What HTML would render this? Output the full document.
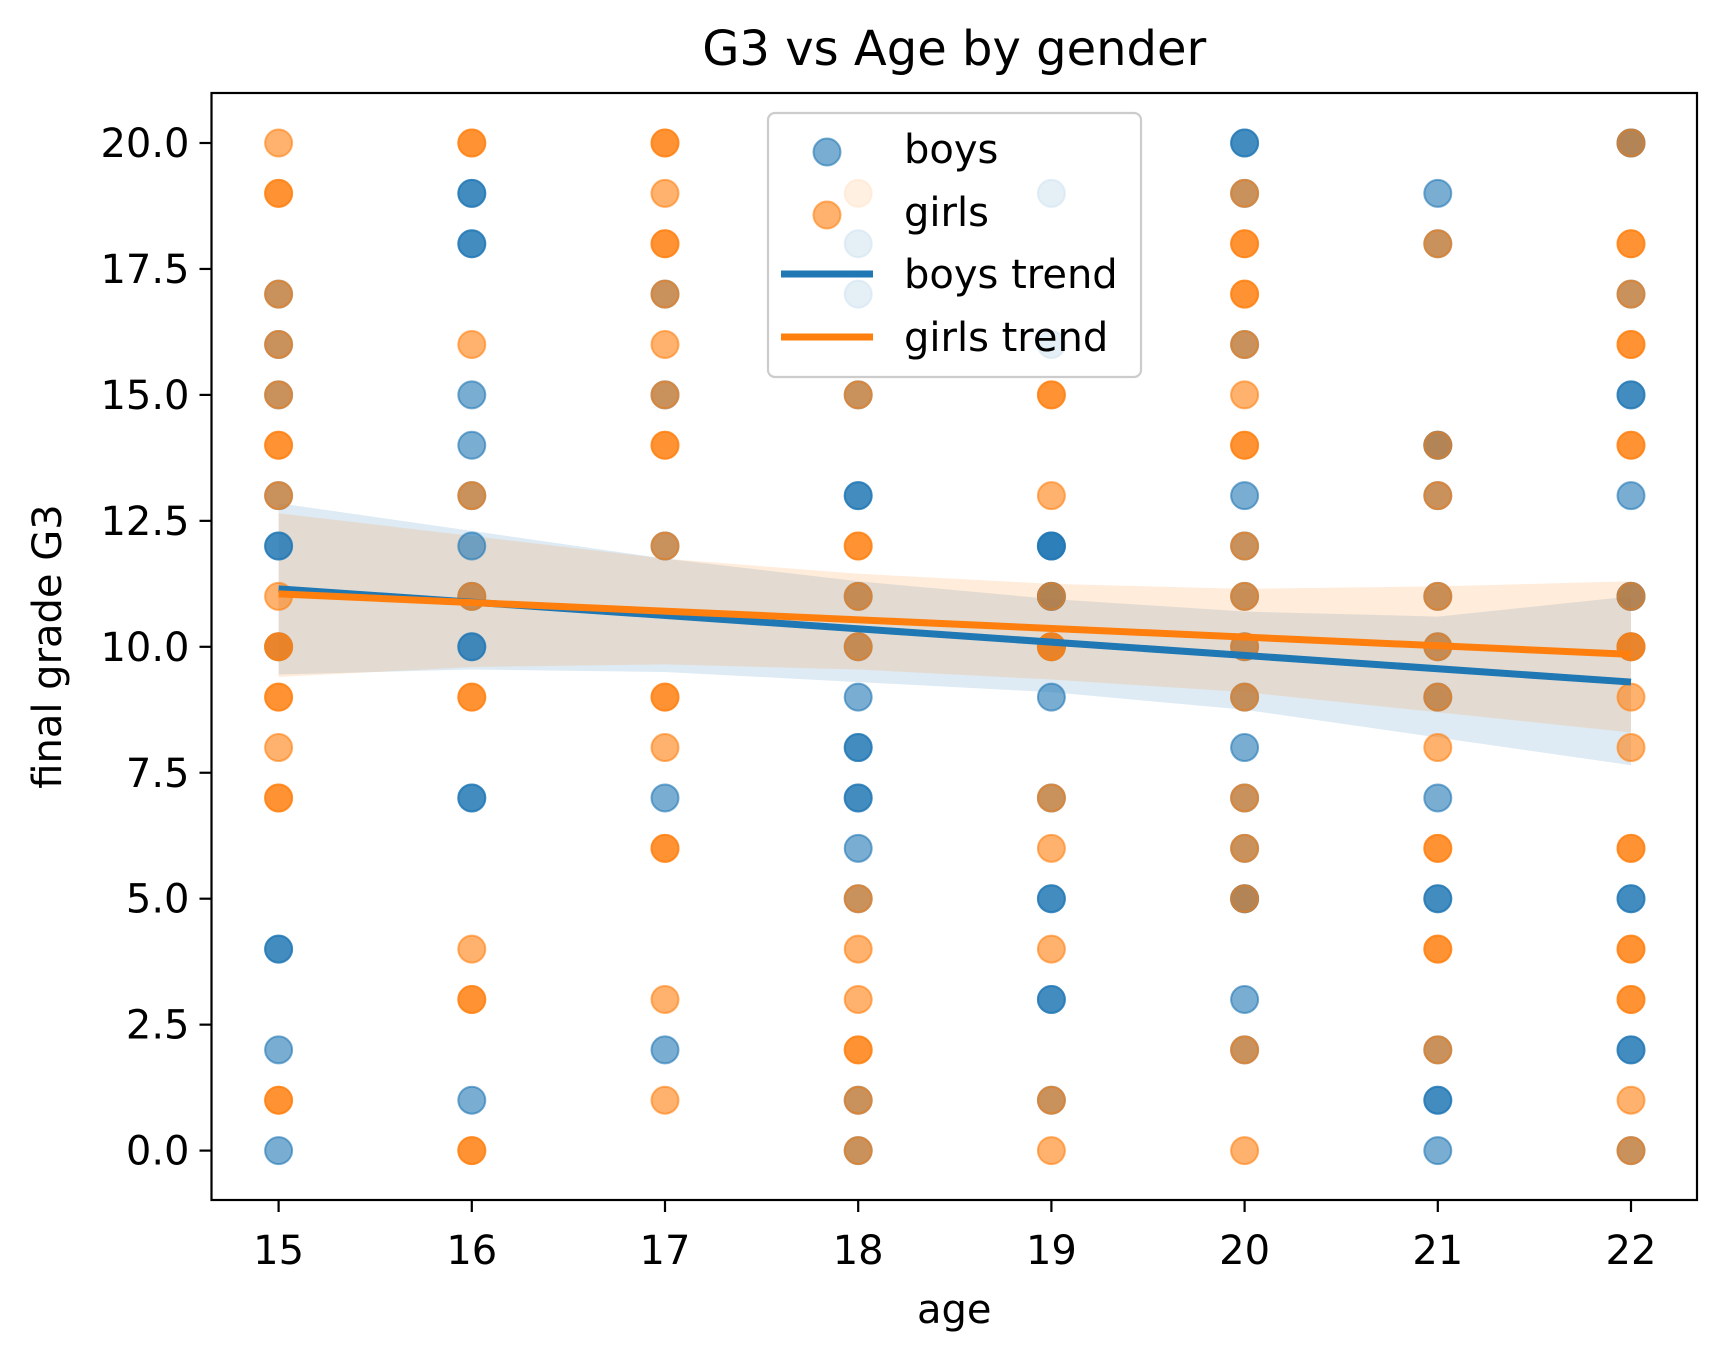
<!DOCTYPE html>
<html><head><meta charset="utf-8"><style>
html,body{margin:0;padding:0;background:#fff;}
svg{display:block;font-family:"DejaVu Sans","Liberation Sans",sans-serif;}
</style></head><body>
<svg id="chart" width="1728" height="1361" viewBox="0 0 1728 1361" xmlns="http://www.w3.org/2000/svg">
<rect width="1728" height="1361" fill="#fff"/>
<g id="bands"></g>
<g id="points"></g>
<g id="lines"></g>
<g id="axes"></g>
<g id="legend"></g>
</svg>
<script>
const ages=[15,16,17,18,19,20,21,22];
const boysAge=[15,15,15,15,15,15,15,15,15,15,15, 16,16,16,16,16,16,16,16,16,16,16,16,16,16, 17,17,17,17,17, 18,18,18,18,18,18,18,18,18,18,18,18,18,18,18,18, 19,19,19,19,19,19,19,19,19,19,19,19,19,19,19, 20,20,20,20,20,20,20,20,20,20,20,20,20,20,20,20, 21,21,21,21,21,21,21,21,21,21,21,21,21,21,21, 22,22,22,22,22,22,22,22,22,22,22,22,22,22];
const boysG3=[17,16,15,13,12,12,4,4,2,0,10, 19,19,18,18,15,14,13,12,11,10,10,7,7,1, 17,15,12,7,2, 18,17,15,13,13,11,10,9,8,8,7,7,6,5,1,0, 19,16,12,12,11,11,9,7,5,5,3,3,1,12,10, 20,20,19,16,13,12,11,9,8,7,6,5,3,2,5,10, 19,18,14,13,11,10,9,7,5,5,2,1,1,0,14, 20,17,15,15,13,11,10,5,5,2,2,0,20,11];
const girlsAge=[15,15,15,15,15,15,15,15,15,15,15,15,15,15,15,15,15,15,15, 16,16,16,16,16,16,16,16,16,16,16,16, 17,17,17,17,17,17,17,17,17,17,17,17,17,17,17,17,17,17, 18,18,18,18,18,18,18,18,18,18,18,18,18, 19,19,19,19,19,19,19,19,19,19,19, 20,20,20,20,20,20,20,20,20,20,20,20,20,20,20,20,20,20, 21,21,21,21,21,21,21,21,21,21,21,21, 22,22,22,22,22,22,22,22,22,22,22,22,22,22,22,22,22,22,22,22,22];
const girlsG3=[20,19,19,17,16,15,14,14,13,11,10,10,9,9,8,7,7,1,1, 20,20,16,13,11,9,9,4,3,3,0,0, 20,20,19,18,18,17,16,15,14,14,12,9,9,8,6,6,3,1, 19,15,12,12,11,10,5,4,3,2,2,1,0, 15,15,13,10,7,6,4,1,0,10,11, 19,18,18,17,17,16,15,14,14,12,11,10,9,7,6,5,2,0, 18,14,13,11,10,9,8,6,4,2,4,6, 20,18,18,17,16,16,14,14,11,10,10,9,8,6,6,4,4,3,3,1,0];
const boysLineY=[11.15,9.3];
const girlsLineY=[11.05,9.85];
const boysUpper=[12.85,12.3,11.75,11.3,10.95,10.7,10.6,11.0];
const boysLower=[9.45,9.55,9.5,9.3,9.1,8.75,8.2,7.65];
const girlsUpper=[12.65,12.2,11.75,11.45,11.25,11.15,11.2,11.3];
const girlsLower=[9.4,9.6,9.65,9.55,9.35,9.1,8.7,8.3];
const xTicks=[15,16,17,18,19,20,21,22];
const yTicks=[0,2.5,5,7.5,10,12.5,15,17.5,20];

const L=211.5,R=1697,T=93,B=1200;
const X=v=>278.6+(v-15)*193.2;
const Y=v=>1150.6-v*50.38;
const NS="http://www.w3.org/2000/svg";
function mk(tag,attrs,parent){const e=document.createElementNS(NS,tag);for(const k in attrs)e.setAttribute(k,attrs[k]);parent.appendChild(e);return e;}
const BLUE="#1f77b4",ORANGE="#ff7f0e";

const bands=document.getElementById('bands');
function band(up,lo,col,name){
  let d="M"+ages.map((a,i)=>X(a)+","+Y(up[i])).join("L");
  d+="L"+ages.slice().reverse().map((a,j)=>X(a)+","+Y(lo[ages.length-1-j])).join("L")+"Z";
  const p=mk('path',{d:d,fill:col,'fill-opacity':0.15,stroke:'none'},bands);
  
  
}
band(boysUpper,boysLower,BLUE,'boys-confidence-band');
band(girlsUpper,girlsLower,ORANGE,'girls-confidence-band');

const pts=document.getElementById('points');
boysAge.forEach((a,i)=>{
  const c=mk('circle',{cx:X(a),cy:Y(boysG3[i]),r:13.5,fill:BLUE,'fill-opacity':0.6,stroke:BLUE,'stroke-opacity':0.6,'stroke-width':2},pts);
  
  
});
girlsAge.forEach((a,i)=>{
  const c=mk('circle',{cx:X(a),cy:Y(girlsG3[i]),r:13.5,fill:ORANGE,'fill-opacity':0.6,stroke:ORANGE,'stroke-opacity':0.6,'stroke-width':2},pts);
  
  
});

const lines=document.getElementById('lines');
const bl=mk('line',{x1:X(15),y1:Y(boysLineY[0]),x2:X(22),y2:Y(boysLineY[1]),stroke:BLUE,'stroke-width':7},lines);


const gl=mk('line',{x1:X(15),y1:Y(girlsLineY[0]),x2:X(22),y2:Y(girlsLineY[1]),stroke:ORANGE,'stroke-width':7},lines);



const ax=document.getElementById('axes');
const fr=mk('rect',{x:L,y:T,width:R-L,height:B-T,fill:'none',stroke:'#000','stroke-width':2.2},ax);


xTicks.forEach(t=>{
  mk('line',{x1:X(t),y1:B,x2:X(t),y2:B+12,stroke:'#000','stroke-width':2.2},ax);
  const tx=mk('text',{x:X(t),y:B+64,'text-anchor':'middle','font-size':40},ax);
  tx.textContent=t;
  
  
});
yTicks.forEach(t=>{
  mk('line',{x1:L-12,y1:Y(t),x2:L,y2:Y(t),stroke:'#000','stroke-width':2.2},ax);
  const tx=mk('text',{x:L-22,y:Y(t)+14,'text-anchor':'end','font-size':40},ax);
  tx.textContent=t.toFixed(1);
  
  
});
const xl=mk('text',{x:(L+R)/2,y:1323,'text-anchor':'middle','font-size':40},ax);
xl.textContent='age';


const yl=mk('text',{x:0,y:0,'text-anchor':'middle','font-size':40,transform:'translate(61,'+((T+B)/2)+') rotate(-90)'},ax);
yl.textContent='final grade G3';


const ti=mk('text',{x:(L+R)/2,y:65,'text-anchor':'middle','font-size':48},ax);
ti.textContent='G3 vs Age by gender';



const lg=document.getElementById('legend');


mk('rect',{x:768,y:113,width:373,height:264,rx:7,fill:'#fff','fill-opacity':0.8,stroke:'#ccc','stroke-width':2.2},lg);
mk('circle',{cx:827,cy:152,r:13.5,fill:BLUE,'fill-opacity':0.6,stroke:BLUE,'stroke-opacity':0.6,'stroke-width':2},lg);
mk('circle',{cx:827,cy:215,r:13.5,fill:ORANGE,'fill-opacity':0.6,stroke:ORANGE,'stroke-opacity':0.6,'stroke-width':2},lg);
mk('line',{x1:781,y1:274,x2:873,y2:274,stroke:BLUE,'stroke-width':7},lg);
mk('line',{x1:781,y1:337,x2:873,y2:337,stroke:ORANGE,'stroke-width':7},lg);
[['boys',163],['girls',226],['boys trend',288],['girls trend',351]].forEach(([s,y])=>{
  const t=mk('text',{x:904,y:y,'font-size':40},lg);
  t.textContent=s;
  
  
});
</script>
</body></html>
